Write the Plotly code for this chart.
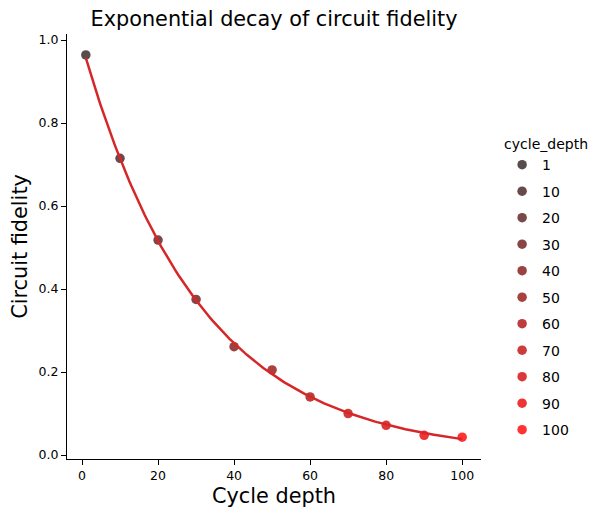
import numpy as np
import plotly.graph_objects as go

cycle_depth = [1, 10, 20, 30, 40, 50, 60, 70, 80, 90, 100]
fidelity = [0.964, 0.715, 0.518, 0.375, 0.261, 0.205, 0.140, 0.100, 0.0715, 0.0475, 0.043]

# exponential fit  F = A * p**d  (log-linear least squares)
slope, intercept = np.polyfit(cycle_depth, np.log(fidelity), 1)
fit_x = np.linspace(min(cycle_depth), max(cycle_depth), 200)
fit_y = np.exp(intercept) * np.exp(slope * fit_x)

# dark -> red palette, one colour per depth
start = np.array([45, 32, 32])
end = np.array([255, 0, 0])
n = len(cycle_depth)
colors = []
for i in range(n):
    c = start + (end - start) * i / (n - 1)
    colors.append('rgb(%d,%d,%d)' % tuple(c.round().astype(int)))

font = 'DejaVu Sans'
fig = go.Figure()

for i, (d, f) in enumerate(zip(cycle_depth, fidelity)):
    fig.add_trace(go.Scatter(
        x=[d], y=[f],
        mode='markers',
        name=str(d),
        legendgroup=str(d),
        marker=dict(color=colors[i], size=9.5, opacity=0.8, line=dict(width=0)),
    ))

fig.add_trace(go.Scatter(
    x=fit_x, y=fit_y,
    mode='lines',
    line=dict(color='#d62728', width=2.5),
    showlegend=False,
))

axis_common = dict(
    showline=True, linecolor='black', linewidth=1.1,
    ticks='outside', ticklen=5, tickwidth=1, tickcolor='black',
    showgrid=False, zeroline=False, automargin=False,
    tickfont=dict(family=font, size=12.5, color='black'),
    title_font=dict(family=font, size=20.8, color='black'),
)

# page body adds an 8px offset, margins compensate for it
W, H = 598, 518
fig.update_layout(
    width=W, height=H,
    paper_bgcolor='white', plot_bgcolor='white',
    margin=dict(l=59, r=125, t=26, b=67, autoexpand=False),
    title=dict(text='Exponential decay of circuit fidelity', x=266 / W,
               xanchor='center', y=1 - 11 / H, yanchor='middle',
               font=dict(family=font, size=20.8, color='black')),
    xaxis=dict(axis_common, range=[-3.95, 104.95], tickvals=[0, 20, 40, 60, 80, 100],
               title=dict(text='Cycle depth', standoff=6)),
    yaxis=dict(axis_common, range=[-0.0096, 1.0145], tickvals=[0, 0.2, 0.4, 0.6, 0.8, 1.0],
               tickformat='.1f', title=dict(text='Circuit fidelity', standoff=14)),
    legend=dict(
        title=dict(text='cycle_depth', font=dict(family=font, size=14, color='black')),
        font=dict(family=font, size=14, color='black'),
        x=1.051, xanchor='left', y=0.772, yanchor='top',
        tracegroupgap=5.3, bgcolor='rgba(0,0,0,0)',
    ),
    showlegend=True,
)

fig.write_html('out.html')
